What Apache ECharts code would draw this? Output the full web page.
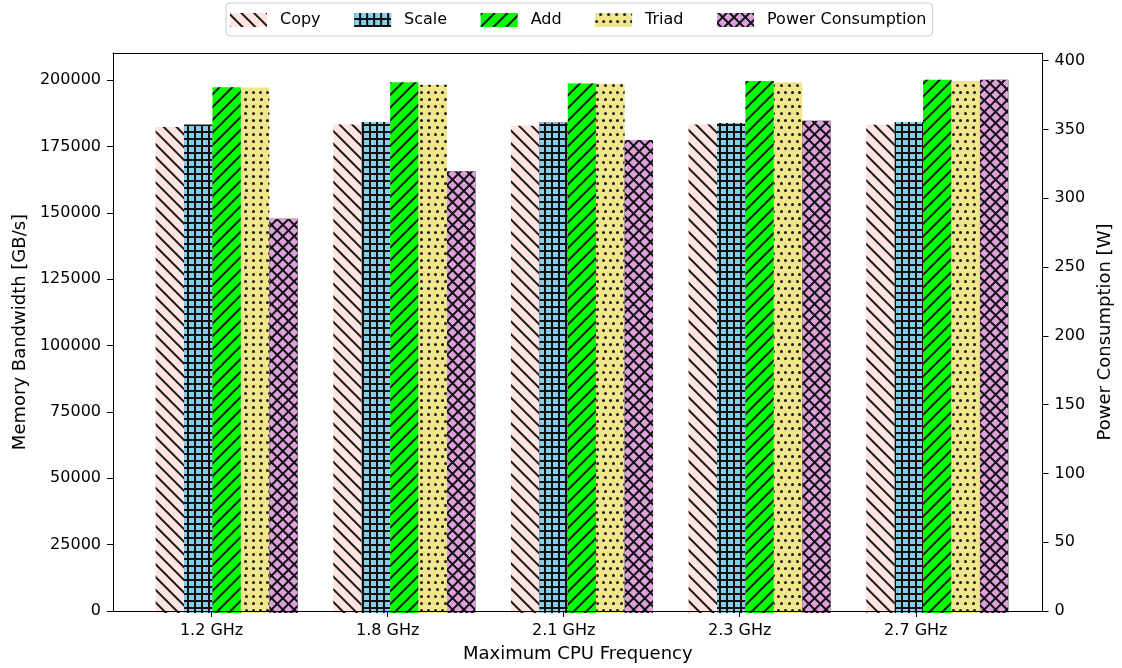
<!DOCTYPE html>
<html>
<head>
<meta charset="utf-8">
<script src="https://cdn.jsdelivr.net/npm/echarts@6/dist/echarts.min.js"></script>
<style>html,body{margin:0;padding:0;background:#fff}#c{width:1122px;height:668px}</style>
</head>
<body>
<div id="c"></div>
<script>
const categories = ['1.2 GHz', '1.8 GHz', '2.1 GHz', '2.3 GHz', '2.7 GHz'];
const copyBW  = [182400, 183400, 182900, 183400, 183300];
const scaleBW = [183400, 184300, 184100, 183900, 184300];
const addBW   = [197400, 199200, 198800, 199700, 200200];
const triadBW = [197300, 198300, 198700, 199200, 199700];
const powerW  = [285.5, 319.8, 342.5, 356.5, 386.2];
const bwTicks = [0, 25000, 50000, 75000, 100000, 125000, 150000, 175000, 200000];
const pwTicks = [0, 50, 100, 150, 200, 250, 300, 350, 400];

const FONT = 'DejaVu Sans';
const FS = 16;
const FS_NAME = 18;
const plotLeft = 113, plotRight = 1051, plotTop = 53, plotBottom = 613;
const W = 1122, H = 668;
const barW = 0.16;
const n = categories.length;
const span = (n - 1) + 5 * barW;
const xMin = -2 * barW - 0.05 * span;
const xMax = (n - 1) + 3 * barW + 0.05 * span;
const pxPerUnit = (plotRight - plotLeft) / (xMax - xMin);
const bandLeft = plotLeft + ((-0.5 + 0.5 * barW) - xMin) * pxPerUnit;
const bandRight = plotLeft + ((n - 1) + 0.5 + 0.5 * barW - xMin) * pxPerUnit;

const bwMax = Math.max(...copyBW, ...scaleBW, ...addBW, ...triadBW) * 1.05;
const pwMax = Math.max(...powerW) * 1.05;

const decals = {
  copy: { symbol: 'rect', symbolSize: 1, dashArrayX: [1, 0], dashArrayY: [1.8, 6.2], rotation: Math.PI / 4, color: '#1a1a1a' },
  scale: { symbol: 'rect', symbolSize: 1, dashArrayX: [4.8, 1.7, 4.8, 1.7], dashArrayY: [4.8, 1.7, 4.8, 1.7], color: '#87CEEB' },
  add: { symbol: 'rect', symbolSize: 1, dashArrayX: [1, 0], dashArrayY: [1.8, 6.2], rotation: -Math.PI / 4, color: '#1a1a1a' },
  triad: { symbol: 'circle', symbolSize: 1, dashArrayX: [[3, 4], [0, 3.5, 3, 0.5]], dashArrayY: [3, 4], color: '#1a1a1a' },
  power: { symbol: 'rect', symbolSize: 1, dashArrayX: [5.2, 1.8], dashArrayY: [5.2, 1.8], rotation: Math.PI / 4, color: '#DDA0DD' }
};

const txt = { fontFamily: FONT, fontSize: FS, color: '#000' };
const nameTxt = { fontFamily: FONT, fontSize: FS_NAME, color: '#000' };
const line = { show: true, onZero: false, lineStyle: { color: '#000', width: 1 } };

function barSeries(name, data, color, decal, yIdx) {
  return {
    name, type: 'bar', xAxisIndex: 2, yAxisIndex: yIdx,
    data, barWidth: (barW * 100) + '%', barGap: '0%',
    itemStyle: { color, decal },
    emphasis: { disabled: true }, silent: true
  };
}

const chart = echarts.init(document.getElementById('c'), null, { renderer: 'canvas' });
chart.setOption({
  animation: false,
  backgroundColor: '#fff',
  legend: {
    left: 226, top: 3,
    padding: [9, 6, 8, 4],
    itemGap: 33.5, itemWidth: 37, itemHeight: 14,
    icon: 'rect',
    borderColor: '#cccccc', borderWidth: 1, borderRadius: 4,
    textStyle: { fontFamily: FONT, fontSize: FS, color: '#000', padding: [0, 0, 0, 8] },
    data: ['Copy', 'Scale', 'Add', 'Triad', 'Power Consumption']
  },
  grid: [
    { left: plotLeft, right: W - plotRight, top: plotTop, bottom: H - plotBottom },
    { left: bandLeft, right: W - bandRight, top: plotTop, bottom: H - plotBottom }
  ],
  xAxis: [
    {
      type: 'value', gridIndex: 0, min: xMin, max: xMax, position: 'bottom', z: 10,
      name: 'Maximum CPU Frequency', nameLocation: 'middle', nameGap: 34, nameTextStyle: nameTxt,
      axisLine: line,
      axisTick: { show: true, length: 6, customValues: categories.map((c, i) => i), lineStyle: { color: '#000' } },
      axisLabel: { customValues: categories.map((c, i) => i), formatter: v => categories[Math.round(v)], margin: 12, ...txt },
      splitLine: { show: false }
    },
    {
      type: 'value', gridIndex: 0, min: xMin, max: xMax, position: 'top', z: 10,
      axisLine: line,
      axisTick: { show: false }, axisLabel: { show: false }, splitLine: { show: false }
    },
    {
      type: 'category', gridIndex: 1, data: categories,
      axisLine: { show: false }, axisTick: { show: false }, axisLabel: { show: false }, splitLine: { show: false }
    }
  ],
  yAxis: [
    {
      type: 'value', gridIndex: 0, min: 0, max: bwMax, position: 'left', z: 10,
      name: 'Memory Bandwidth [GB/s]', nameLocation: 'middle', nameRotate: 90, nameGap: 83, nameTextStyle: nameTxt,
      axisLine: line,
      axisTick: { show: true, length: 6, customValues: bwTicks, lineStyle: { color: '#000' } },
      axisLabel: { customValues: bwTicks, formatter: v => String(v), margin: 12, ...txt },
      splitLine: { show: false }
    },
    {
      type: 'value', gridIndex: 0, min: 0, max: pwMax, position: 'right', z: 10,
      name: 'Power Consumption [W]', nameLocation: 'middle', nameRotate: 90, nameGap: 50, nameTextStyle: nameTxt,
      axisLine: line,
      axisTick: { show: true, length: 6, customValues: pwTicks, lineStyle: { color: '#000' } },
      axisLabel: { customValues: pwTicks, formatter: v => String(v), margin: 12, ...txt },
      splitLine: { show: false }
    },
    { type: 'value', gridIndex: 1, min: 0, max: bwMax, show: false },
    { type: 'value', gridIndex: 1, min: 0, max: pwMax, show: false }
  ],
  series: [
    barSeries('Copy', copyBW, '#FFE4E1', decals.copy, 2),
    barSeries('Scale', scaleBW, '#111111', decals.scale, 2),
    barSeries('Add', addBW, '#00FF00', decals.add, 2),
    barSeries('Triad', triadBW, '#F0E68C', decals.triad, 2),
    barSeries('Power Consumption', powerW, '#111111', decals.power, 3)
  ]
});
</script>
</body>
</html>
